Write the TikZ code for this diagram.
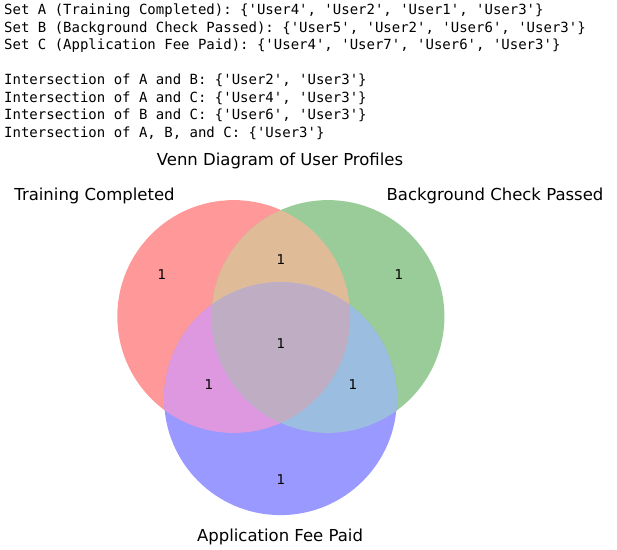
\documentclass[tikz,border=0pt]{standalone}
\usepackage{fontspec}
\setmainfont{DejaVu Sans}
\setmonofont{DejaVu Sans Mono}
\usetikzlibrary{positioning}
\definecolor{onlyA}{HTML}{FF9999}
\definecolor{onlyB}{HTML}{99CC99}
\definecolor{onlyC}{HTML}{9999FF}
\definecolor{fillAB}{HTML}{E0BB98}
\definecolor{fillAC}{HTML}{DE98E0}
\definecolor{fillBC}{HTML}{9ABDE0}
\definecolor{fillABC}{HTML}{BFAEC3}
\tikzset{
  prtline/.style = {anchor=base west, inner sep=0pt, font=\fontsize{14}{17.5}\selectfont\ttfamily},
  setlab/.style  = {anchor=base, inner sep=0pt, font=\fontsize{16.5}{20}\selectfont},
  cnt/.style     = {inner sep=0pt, font=\fontsize{13.5}{16}\selectfont},
}
\newcommand{\rad}{116.4}

\begin{document}
\begin{tikzpicture}[x=1pt, y=-1pt]
\useasboundingbox (0,0) rectangle (617,549);

% =========================================================================
% printed output
% =========================================================================
\node[prtline] (setA) at (4,14.5) {Set A (Training Completed): \{'User4', 'User2', 'User1', 'User3'\}};
\node[prtline] (setB) at (4,32) {Set B (Background Check Passed): \{'User5', 'User2', 'User6', 'User3'\}};
\node[prtline] (setC) at (4,49.5) {Set C (Application Fee Paid): \{'User4', 'User7', 'User6', 'User3'\}};
\node[prtline] (iAB) at (4,84.5) {Intersection of A and B: \{'User2', 'User3'\}};
\node[prtline] (iAC) at (4,102) {Intersection of A and C: \{'User4', 'User3'\}};
\node[prtline] (iBC) at (4,119.5) {Intersection of B and C: \{'User6', 'User3'\}};
\node[prtline] (iABC) at (4,137) {Intersection of A, B, and C: \{'User3'\}};

% =========================================================================
% Venn
% =========================================================================
\coordinate (cA) at (233.7,316.5);
\coordinate (cB) at (328.0,316.5);
\coordinate (cC) at (280.5,398.7);

\fill[onlyA] (cA) circle (\rad);
\fill[onlyB] (cB) circle (\rad);
\fill[onlyC] (cC) circle (\rad);
\begin{scope}
  \clip (cA) circle (\rad);
  \fill[fillAB] (cB) circle (\rad);
  \fill[fillAC] (cC) circle (\rad);
\end{scope}
\begin{scope}
  \clip (cB) circle (\rad);
  \fill[fillBC] (cC) circle (\rad);
\end{scope}
\begin{scope}
  \clip (cA) circle (\rad);
  \clip (cB) circle (\rad);
  \fill[fillABC] (cC) circle (\rad);
\end{scope}

\node[cnt] (nA)   at (162,275) {1};
\node[cnt] (nB)   at (399,275) {1};
\node[cnt] (nC)   at (281,480) {1};
\node[cnt] (nAB)  at (281,260) {1};
\node[cnt] (nAC)  at (209,385) {1};
\node[cnt] (nBC)  at (353,385) {1};
\node[cnt] (nABC) at (281,344) {1};

\node[setlab] (title) at (280,165) {Venn Diagram of User Profiles};
\node[setlab] (labA) at (94.5,200) {Training Completed};
\node[setlab] (labB) at (495,200) {Background Check Passed};
\node[setlab] (labC) at (280,541) {Application Fee Paid};

\end{tikzpicture}
\end{document}
